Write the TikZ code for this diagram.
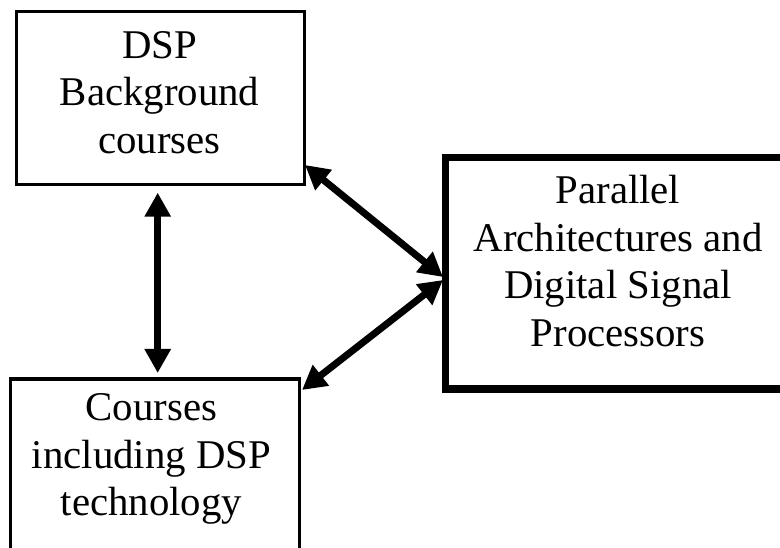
\documentclass[tikz,border=0pt]{standalone}
\usepackage{fontspec}
\setmainfont{Liberation Serif}
\usetikzlibrary{arrows.meta}
\tikzset{
  box/.style={draw, line width=3.3pt, inner sep=0pt, minimum width=288pt, minimum height=173pt},
  bigbox/.style={draw, line width=7.5pt, inner sep=0pt, minimum width=344.5pt, minimum height=231.5pt},
  label/.style={align=center, inner sep=0pt, font=\fontsize{40.8}{47.5}\selectfont},
  link/.style={line width=7pt, {Triangle[length=24pt,width=25pt]}-{Triangle[length=24pt,width=25pt]}}
}
\begin{document}
\begin{tikzpicture}[x=1pt,y=-1pt]
  \clip (0,0) rectangle (780,548);
  \fill[white] (0,0) rectangle (780,548);
  % boxes
  \node[box] (bg) at (160.5,98) {};
  \node[box, minimum width=289pt] (dsp) at (155,465.5) {};
  \node[bigbox] (pa) at (617.75,273.25) {};
  % texts
  \node[label] (bgt) at (159.5,92.2) {DSP\\Background\\courses};
  \node[label] (dspt) at (151.5,459) {Courses\\including DSP\\technology};
  \node[label] (pat) at (618,261) {Parallel\\Architectures and\\Digital Signal\\Processors};
  % connector ends
  \coordinate (bgS) at (157.7,192.7);
  \coordinate (dspN) at (157.7,373);
  \coordinate (bgE) at (305,165);
  \coordinate (paW1) at (443,277);
  \coordinate (paW2) at (443,280);
  \coordinate (dspE) at (302,390);
  \draw[link] (bgS) -- (dspN);
  \draw[link] (bgE) -- (paW1);
  \draw[link] (paW2) -- (dspE);
\end{tikzpicture}
\end{document}
